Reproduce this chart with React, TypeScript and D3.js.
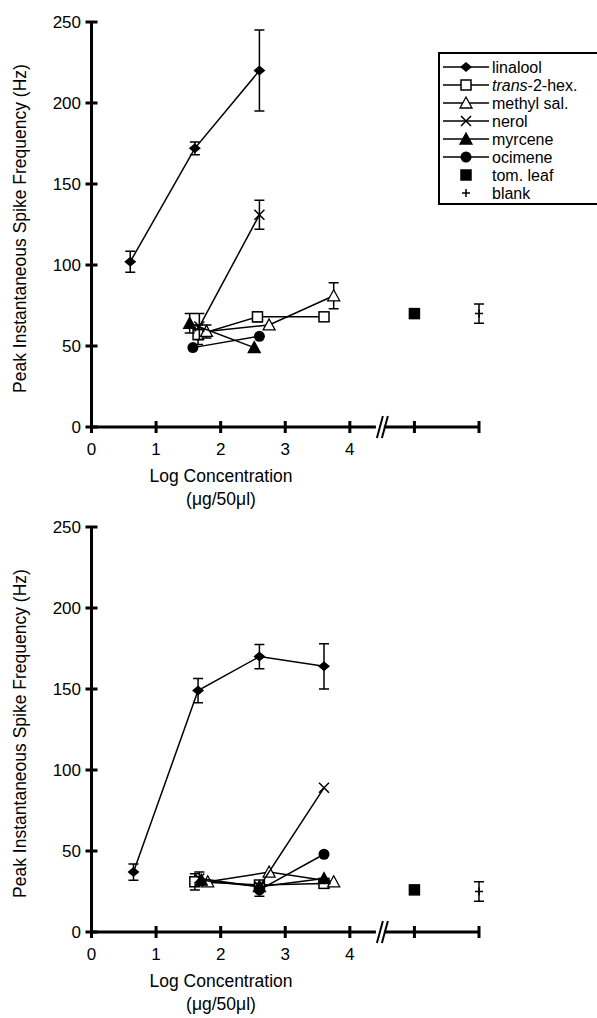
import * as d3 from 'd3';
import React from 'react';

// [log concentration, mean Hz, s.e.]
const topLinalool = [[0.6, 102, 6.5], [1.6, 172, 4], [2.6, 220, 25]];
const topTrans = [[1.65, 57, 6], [2.57, 68, 3], [3.6, 68, 0]];
const topMethyl = [[1.78, 59, 4], [2.75, 63, 0], [3.75, 81, 8]];
const topNerol = [[1.67, 62, 8], [2.6, 131, 9]];
const topMyrcene = [[1.52, 64, 6], [2.52, 49, 0]];
const topOcimene = [[1.57, 49, 0], [2.6, 56, 0]];
const topLeaf = [[5, 70, 0]];
const topBlank = [[6, 70, 6]];

const botLinalool = [[0.65, 37, 5], [1.65, 149, 7.5], [2.6, 170, 7.5], [3.6, 164, 14]];
const botTrans = [[1.6, 31, 5], [2.6, 29, 0], [3.6, 30, 0]];
const botMethyl = [[1.8, 31, 0], [2.75, 37, 0], [3.75, 31, 0]];
const botNerol = [[1.67, 33, 4], [2.6, 28, 0], [3.6, 89, 0]];
const botMyrcene = [[1.7, 32, 0], [2.6, 28, 0], [3.6, 33, 0]];
const botOcimene = [[2.6, 26, 4], [3.6, 48, 0]];
const botLeaf = [[5, 26, 0]];
const botBlank = [[6, 25, 6]];

const legendNames = ['linalool', 'trans-2-hex.', 'methyl sal.', 'nerol', 'myrcene', 'ocimene', 'tom. leaf', 'blank'];
const markerKinds = ['diamond', 'square', 'triangle', 'x', 'ftriangle', 'circle', 'fsquare', 'plus'];
const yTicks = [0, 50, 100, 150, 200, 250];
const xTicks = [0, 1, 2, 3, 4, 5, 6];
const xTickLabels = ['0', '1', '2', '3', '4', '', ''];

const font = '"Liberation Sans", Arial, sans-serif';

function Marker({ kind, x, y }: { kind: string; x: number; y: number }) {
  if (kind === 'diamond')
    return <path d={`M${x - 6},${y}L${x},${y - 5}L${x + 6},${y}L${x},${y + 5}Z`} fill="#000" />;
  if (kind === 'square' || kind === 'fsquare')
    return <rect x={x - 5} y={y - 5} width={10} height={10} fill={kind === 'fsquare' ? '#000' : '#fff'} stroke="#000" strokeWidth={1.5} />;
  if (kind === 'triangle' || kind === 'ftriangle')
    return <path d={`M${x},${y - 6}L${x + 6},${y + 5}L${x - 6},${y + 5}Z`} fill={kind === 'ftriangle' ? '#000' : '#fff'} stroke="#000" strokeWidth={1.3} />;
  if (kind === 'circle') return <circle cx={x} cy={y} r={5.5} fill="#000" />;
  if (kind === 'x')
    return <path d={`M${x - 5},${y - 5}L${x + 5},${y + 5}M${x - 5},${y + 5}L${x + 5},${y - 5}`} stroke="#000" strokeWidth={1.5} />;
  if (kind === 'plus')
    return <path d={`M${x - 4},${y}L${x + 4},${y}M${x},${y - 4}L${x},${y + 4}`} stroke="#000" strokeWidth={1.5} />;
  return null;
}

function Panel({ top, series }: { top: number; series: number[][][] }) {
  const bottom = top + 405;
  const x = d3.scaleLinear().domain([0, 6]).range([91.5, 479]);
  const y = d3.scaleLinear().domain([0, 250]).range([bottom, top]);
  const line = d3.line<number[]>().x(d => x(d[0])).y(d => y(d[1]));
  const brk = x(4.45);
  return (
    <g>
      {series.map((s, i) => (
        <g key={i}>
          {s.length > 1 && <path d={line(s) || ''} fill="none" stroke="#000" strokeWidth={1.5} />}
          {s.filter(d => d[2] > 0).map((d, j) => (
            <path key={j} stroke="#000" strokeWidth={1.5} fill="none"
              d={`M${x(d[0])},${y(d[1] - d[2])}V${y(d[1] + d[2])}M${x(d[0]) - 5},${y(d[1] + d[2])}h10M${x(d[0]) - 5},${y(d[1] - d[2])}h10`} />
          ))}
          {s.map((d, j) => <Marker key={j} kind={markerKinds[i]} x={x(d[0])} y={y(d[1])} />)}
        </g>
      ))}
      {/* axes */}
      <line x1={x(0)} x2={x(0)} y1={y(250) - 1} y2={bottom + 1.5} stroke="#000" strokeWidth={3} />
      <line x1={x(0) - 1.5} x2={x(6) + 1} y1={bottom} y2={bottom} stroke="#000" strokeWidth={3} />
      {yTicks.map(t => (
        <g key={t}>
          <line x1={x(0) - 6} x2={x(0) + 6} y1={y(t)} y2={y(t)} stroke="#000" strokeWidth={3} />
          <text x={81} y={y(t) + 6} textAnchor="end" fontSize={17} fontFamily={font}>{t}</text>
        </g>
      ))}
      {xTicks.map((t, i) => (
        <g key={t}>
          <line x1={x(t)} x2={x(t)} y1={bottom - 6} y2={bottom + 6} stroke="#000" strokeWidth={3} />
          <text x={x(t)} y={bottom + 28} textAnchor="middle" fontSize={17} fontFamily={font}>{xTickLabels[i]}</text>
        </g>
      ))}
      <rect x={brk - 3} y={bottom - 2} width={8} height={4} fill="#fff" />
      <path d={`M${brk - 2},${bottom + 11}L${brk + 4},${bottom - 11}M${brk + 3},${bottom + 11}L${brk + 9},${bottom - 11}`} stroke="#000" strokeWidth={2} />
      <text x={221} y={bottom + 55} textAnchor="middle" fontSize={17.5} fontFamily={font}>Log Concentration</text>
      <text x={221} y={bottom + 78} textAnchor="middle" fontSize={17.5} fontFamily={font}>(μg/50μl)</text>
      <text transform={`translate(26,${(top + bottom) / 2 + 4}) rotate(-90)`} textAnchor="middle" fontSize={17.5} fontFamily={font}>
        Peak Instantaneous Spike Frequency (Hz)
      </text>
    </g>
  );
}

function Legend() {
  const rowY = d3.scaleLinear().domain([0, 1]).range([67, 85]);
  return (
    <g>
      <rect x={439} y={53} width={170} height={151} fill="#fff" stroke="#000" strokeWidth={2} />
      {legendNames.map((n, i) => {
        const yy = rowY(i);
        return (
          <g key={n}>
            {i < 6 && <line x1={443} x2={489} y1={yy} y2={yy} stroke="#000" strokeWidth={1.5} />}
            <Marker kind={markerKinds[i]} x={466} y={yy} />
            <text x={492} y={yy + 5.5} fontSize={16} fontFamily={font}>
              {i === 1 ? (<><tspan fontStyle="italic">trans</tspan>-2-hex.</>) : n}
            </text>
          </g>
        );
      })}
    </g>
  );
}

export default function App() {
  const topSeries = [topLinalool, topTrans, topMethyl, topNerol, topMyrcene, topOcimene, topLeaf, topBlank];
  const botSeries = [botLinalool, botTrans, botMethyl, botNerol, botMyrcene, botOcimene, botLeaf, botBlank];
  return (
    <svg width={597} height={1018} style={{ position: 'absolute', left: 0, top: 0, background: '#fff' }}>
      <rect width={597} height={1018} fill="#fff" />
      <Panel top={22} series={topSeries} />
      <Panel top={527} series={botSeries} />
      <Legend />
    </svg>
  );
}
